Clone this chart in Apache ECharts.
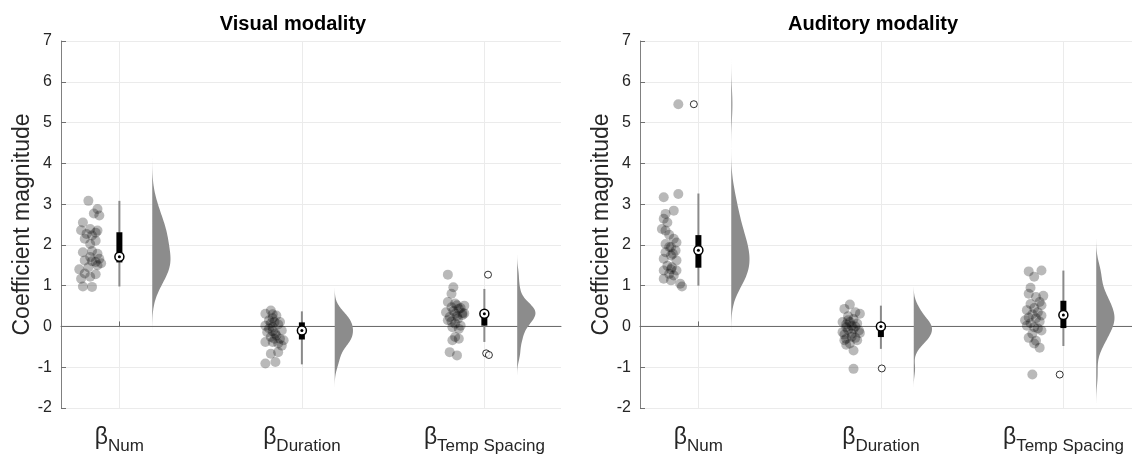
<!DOCTYPE html>
<html><head><meta charset="utf-8">
<script src="https://cdn.jsdelivr.net/npm/echarts@6/dist/echarts.min.js"></script>
<style>html,body{margin:0;padding:0;background:#fff}#c{width:1132px;height:459px}</style>
</head><body><div id="c"></div>
<script>
// ---------- data ----------
const categories = ['Num', 'Duration', 'Temp Spacing'];
const panelTitles = ['Visual modality', 'Auditory modality'];
const yTicks = [-2, -1, 0, 1, 2, 3, 4, 5, 6, 7];
const yLabel = 'Coefficient magnitude';

// individual coefficients (values) and their horizontal jitter
const visualNumVals = [3.08,2.88,2.77,2.72,2.55,2.36,2.39,2.35,2.27,2.23,2.15,2.10,2.02,1.85,1.82,1.78,1.70,1.66,1.62,1.60,1.58,1.55,1.50,1.45,1.40,1.30,1.28,1.22,1.17,0.98,0.97,2.30];
const visualNumJit  = [-0.17,-0.12,-0.14,-0.11,-0.20,-0.21,-0.16,-0.12,-0.18,-0.15,-0.19,-0.13,-0.16,-0.15,-0.20,-0.12,-0.16,-0.11,-0.19,-0.15,-0.13,-0.10,-0.12,-0.17,-0.22,-0.19,-0.13,-0.16,-0.21,-0.20,-0.15,-0.13];
const visualDurVals = [0.39,0.31,0.27,0.30,0.20,0.15,0.11,0.11,0.08,0.05,0.02,-0.02,-0.05,-0.10,-0.12,-0.14,-0.18,-0.22,-0.26,-0.30,-0.30,-0.34,-0.38,-0.38,-0.42,-0.47,-0.63,-0.67,-0.87,-0.91];
const visualDurJit  = [-0.17,-0.20,-0.14,-0.16,-0.16,-0.18,-0.15,-0.12,-0.17,-0.13,-0.20,-0.16,-0.18,-0.11,-0.16,-0.19,-0.145,-0.14,-0.17,-0.12,-0.15,-0.10,-0.16,-0.20,-0.13,-0.11,-0.13,-0.17,-0.145,-0.20];
const visualTempVals = [1.27,0.96,0.80,0.60,0.56,0.52,0.51,0.47,0.45,0.43,0.38,0.35,0.33,0.32,0.31,0.28,0.25,0.23,0.19,0.15,0.12,0.07,0.02,-0.02,-0.06,-0.26,-0.30,-0.34,-0.63,-0.71];
const visualTempJit  = [-0.20,-0.17,-0.18,-0.20,-0.16,-0.15,-0.11,-0.18,-0.13,-0.14,-0.17,-0.21,-0.12,-0.11,-0.16,-0.12,-0.15,-0.19,-0.145,-0.20,-0.18,-0.16,-0.13,-0.175,-0.14,-0.16,-0.14,-0.175,-0.19,-0.15];

const auditoryNumVals = [5.45,3.25,3.17,2.84,2.76,2.64,2.55,2.39,2.35,2.25,2.15,2.06,2.02,1.95,1.94,1.86,1.82,1.78,1.74,1.66,1.62,1.49,1.45,1.40,1.37,1.37,1.29,1.25,1.17,1.13,1.05,0.98];
const auditoryNumJit  = [-0.11,-0.11,-0.19,-0.135,-0.18,-0.19,-0.17,-0.20,-0.18,-0.16,-0.135,-0.12,-0.18,-0.16,-0.15,-0.125,-0.18,-0.14,-0.15,-0.19,-0.12,-0.17,-0.145,-0.15,-0.19,-0.12,-0.16,-0.135,-0.19,-0.15,-0.10,-0.09];
const auditoryDurVals = [0.54,0.43,0.35,0.31,0.25,0.18,0.15,0.11,0.11,0.07,0.05,0.02,0.00,-0.02,-0.06,-0.08,-0.10,-0.14,-0.16,-0.18,-0.20,-0.25,-0.28,-0.30,-0.34,-0.34,-0.42,-0.45,-0.59,-1.04];
const auditoryDurJit  = [-0.17,-0.20,-0.14,-0.115,-0.18,-0.15,-0.18,-0.21,-0.17,-0.13,-0.19,-0.16,-0.14,-0.19,-0.15,-0.18,-0.12,-0.21,-0.115,-0.16,-0.20,-0.16,-0.14,-0.19,-0.13,-0.20,-0.17,-0.19,-0.15,-0.15];
const auditoryTempVals = [1.37,1.35,1.22,0.95,0.80,0.75,0.72,0.60,0.55,0.52,0.45,0.40,0.35,0.30,0.27,0.22,0.20,0.15,0.12,0.08,0.02,-0.02,-0.05,-0.10,-0.18,-0.28,-0.35,-0.42,-0.52,-1.18];
const auditoryTempJit  = [-0.12,-0.19,-0.16,-0.18,-0.19,-0.11,-0.15,-0.13,-0.18,-0.12,-0.16,-0.20,-0.14,-0.17,-0.12,-0.19,-0.15,-0.21,-0.13,-0.18,-0.20,-0.16,-0.14,-0.12,-0.17,-0.19,-0.15,-0.16,-0.13,-0.17];

// box stats: [lower whisker, q1, median, q3, upper whisker]
const visualBox   = [[0.98,1.57,1.71,2.31,3.08],[-0.93,-0.32,-0.10,0.10,0.37],[-0.38,0.02,0.31,0.39,0.92]];
const auditoryBox = [[1.00,1.44,1.87,2.24,3.26],[-0.55,-0.26,0.00,0.03,0.51],[-0.48,-0.04,0.28,0.63,1.37]];

// outliers: [category (1-based), horizontal offset, value]
const visualOutliers   = [[3,0.02,1.27],[3,0.01,-0.66],[3,0.025,-0.70]];
const auditoryOutliers = [[1,-0.025,5.45],[2,0.005,-1.03],[3,-0.02,-1.18]];

// ---------- chart ----------
const FONT = '"Liberation Sans", Arial, Helvetica, sans-serif';
const TXT = '#262626';
const X_MIN = 0.68;
const VIOLIN_START = 0.18, VIOLIN_WIDTH = 0.10;

function median(a){ const s=[...a].sort((x,y)=>x-y); const n=s.length; return n%2? s[(n-1)/2] : (s[n/2-1]+s[n/2])/2; }
function kde(vals){
  const n = vals.length, med = median(vals);
  const mad = median(vals.map(v=>Math.abs(v-med)));
  const h = (mad/0.6745) * Math.pow(4/(3*n), 0.2);
  const lo = Math.min(...vals) - 3*h, hi = Math.max(...vals) + 3*h;
  const pts = [];
  const N = 120;
  for (let i=0;i<N;i++){
    const y = lo + (hi-lo)*i/(N-1);
    let d = 0; for (const v of vals){ const z=(y-v)/h; d += Math.exp(-0.5*z*z); }
    pts.push([y,d]);
  }
  const m = Math.max(...pts.map(p=>p[1]));
  return pts.map(p=>[p[0], p[1]/m]);
}

const panels = [
  { title: panelTitles[0], left: 61, width: 500, xMax: 3.42, titleX: 288,
    vals: [visualNumVals, visualDurVals, visualTempVals], jit: [visualNumJit, visualDurJit, visualTempJit],
    box: visualBox, out: visualOutliers },
  { title: panelTitles[1], left: 640, width: 492, xMax: 3.376, titleX: 868,
    vals: [auditoryNumVals, auditoryDurVals, auditoryTempVals], jit: [auditoryNumJit, auditoryDurJit, auditoryTempJit],
    box: auditoryBox, out: auditoryOutliers }
];

const grid = [], xAxis = [], yAxis = [], series = [], title = [];
panels.forEach((p, i) => {
  grid.push({ left: p.left, top: 41, width: p.width, height: 367, containLabel: false });
  title.push({ text: p.title, left: p.titleX, top: 9, textAlign: 'center',
    textStyle: { fontFamily: FONT, fontSize: 20, fontWeight: 'bold', color: '#000' } });
  xAxis.push({
    type: 'value', gridIndex: i, min: X_MIN, max: p.xMax,
    axisLine: { show: true, lineStyle: { color: '#6a6a6a', width: 1 } },
    axisTick: { show: true, inside: true, length: 5, customValues: [1,2,3], lineStyle: { color: '#6a6a6a' } },
    axisLabel: { show: true, customValues: [1,2,3], margin: 18,
      formatter: v => '{b|β}{s|' + categories[Math.round(v)-1] + '}',
      rich: {
        b: { fontFamily: FONT, fontSize: 23, color: TXT, lineHeight: 24, verticalAlign: 'top' },
        s: { fontFamily: FONT, fontSize: 17, color: TXT, lineHeight: 17, padding: [12,0,0,0], verticalAlign: 'top' }
      } },
    splitLine: { show: true, lineStyle: { color: '#ebebeb', width: 1 } }
  });
  yAxis.push({
    type: 'value', gridIndex: i, min: -2, max: 7, interval: 1,
    name: yLabel, nameLocation: 'middle', nameRotate: 90, nameGap: 27,
    nameTextStyle: { fontFamily: FONT, fontSize: 23, color: TXT },
    axisLine: { show: true, lineStyle: { color: '#808080', width: 1 } },
    axisTick: { show: true, inside: true, length: 5, lineStyle: { color: '#707070' } },
    axisLabel: { fontFamily: FONT, fontSize: 16, color: TXT, margin: 9,
      formatter: v => yTicks.includes(v) ? String(v) : '' },
    splitLine: { show: true, lineStyle: { color: '#ebebeb', width: 1 } }
  });
  // zero reference line
  series.push({ type: 'line', xAxisIndex: i, yAxisIndex: i, data: [[X_MIN,0],[p.xMax,0]],
    symbol: 'none', silent: true, z: 2, lineStyle: { color: '#6e6e6e', width: 1 } });
  // jittered points
  const pts = [];
  p.vals.forEach((arr, k) => arr.forEach((v, j) => pts.push([k+1+p.jit[k][j], v])));
  series.push({ type: 'scatter', xAxisIndex: i, yAxisIndex: i, data: pts, symbolSize: 10, z: 3,
    itemStyle: { color: 'rgba(0,0,0,0.34)' }, silent: true });
  // half violins
  const dens = p.vals.map(kde);
  series.push({ type: 'custom', xAxisIndex: i, yAxisIndex: i, z: 3, silent: true,
    data: [[1,0],[2,0],[3,0]], encode: { x: 0, y: 1 },
    renderItem: (params, api) => {
      const k = params.dataIndex, d = dens[k], c = k+1+VIOLIN_START;
      const poly = d.map(q => api.coord([c + VIOLIN_WIDTH*q[1], q[0]]));
      for (let t=d.length-1;t>=0;t--) poly.push(api.coord([c, d[t][0]]));
      return { type: 'polygon', shape: { points: poly }, style: { fill: '#8c8c8c', stroke: null } };
    } });
  // box plots
  series.push({ type: 'custom', xAxisIndex: i, yAxisIndex: i, z: 4, silent: true,
    data: p.box.map((b,k) => [k+1, ...b]), encode: { x: 0, y: [1,2,3,4,5] },
    renderItem: (params, api) => {
      const x = api.value(0);
      const lo = api.coord([x, api.value(1)]), q1 = api.coord([x, api.value(2)]),
            md = api.coord([x, api.value(3)]), q3 = api.coord([x, api.value(4)]), hi = api.coord([x, api.value(5)]);
      return { type: 'group', children: [
        { type: 'line', shape: { x1: lo[0], y1: lo[1], x2: hi[0], y2: hi[1] }, style: { stroke: '#8a8a8a', lineWidth: 2 } },
        { type: 'rect', shape: { x: q3[0]-3, y: q3[1], width: 6, height: q1[1]-q3[1] }, style: { fill: '#000' } },
        { type: 'circle', shape: { cx: md[0], cy: md[1], r: 4.5 }, style: { fill: '#fff', stroke: '#000', lineWidth: 1.5 } },
        { type: 'circle', shape: { cx: md[0], cy: md[1], r: 1.5 }, style: { fill: '#000' } }
      ] };
    } });
  // outliers
  series.push({ type: 'scatter', xAxisIndex: i, yAxisIndex: i, z: 5, silent: true, symbolSize: 7,
    data: p.out.map(o => [o[0]+o[1], o[2]]),
    itemStyle: { color: '#fff', borderColor: '#000', borderWidth: 1 } });
});

const chart = echarts.init(document.getElementById('c'), null, { renderer: 'canvas' });
chart.setOption({ animation: false, backgroundColor: '#fff', title, grid, xAxis, yAxis, series });
</script></body></html>
